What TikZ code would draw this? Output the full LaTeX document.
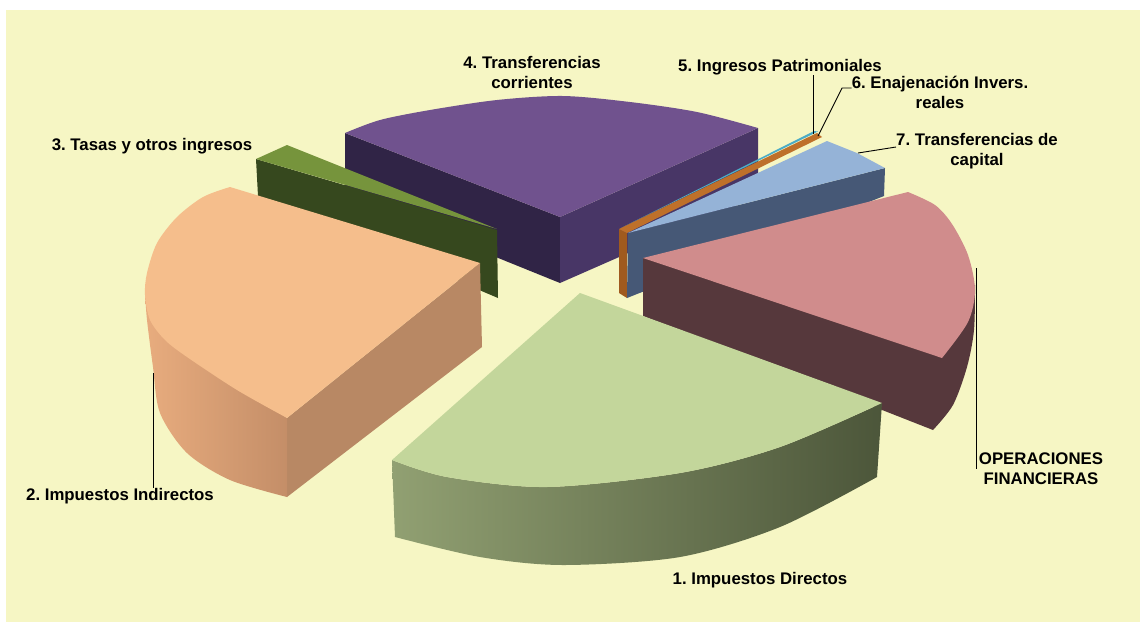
\documentclass[tikz,border=0pt]{standalone}
\usepackage{fontspec}
\setmainfont{Liberation Sans}
\frenchspacing
\begin{document}
\begin{tikzpicture}[x=1pt,y=-1pt,
  lbl/.style={font=\fontsize{16.8}{20}\selectfont\bfseries, inner sep=0pt, align=center, text=black},
  lead/.style={draw=black, line width=0.9pt}]
\definecolor{panel}{RGB}{246,246,196}
\definecolor{purTop}{RGB}{112,82,142}
\definecolor{purL}{RGB}{48,36,70}
\definecolor{purR}{RGB}{72,54,102}
\definecolor{gsTop}{RGB}{118,148,60}
\definecolor{gsSide}{RGB}{54,72,30}
\definecolor{teal5}{RGB}{75,172,198}
\definecolor{brTop}{RGB}{190,112,42}
\definecolor{brSide}{RGB}{160,90,30}
\definecolor{blTop}{RGB}{149,179,215}
\definecolor{blSide}{RGB}{70,88,118}
\definecolor{pkTop}{RGB}{208,140,140}
\definecolor{pkSide}{RGB}{86,56,60}
\definecolor{orTop}{RGB}{245,190,140}
\definecolor{orSideL}{RGB}{232,172,126}
\definecolor{orSideR}{RGB}{196,142,104}
\definecolor{orCut}{RGB}{184,136,100}
\definecolor{gbTop}{RGB}{195,214,155}
\definecolor{gbSideL}{RGB}{145,160,114}
\definecolor{gbSideR}{RGB}{76,86,58}

\useasboundingbox (0,0) rectangle (1146,625);
\fill[white] (0,0) rectangle (1146,625);
\fill[panel] (6,10) rectangle (1140,622);

% 4. Transferencias corrientes (purple)
\fill[purL] (345,133) -- (560,217) -- (560,283) -- (345,196) -- cycle;
\fill[purR] (560,217) -- (758,128) -- (758,196) -- (560,283) -- cycle;
\fill[purTop] (560,217) -- (345,133) -- plot[smooth] coordinates {(345,133) (380,120) (430,110) (497,100) (563,96) (630,102) (697,112) (758,128)} -- cycle;

% 3. Tasas (small green)
\fill[gsSide] (256,159) -- (497,230) -- (498,298) -- (258,196) -- cycle;
\fill[gsTop] (256,159) -- (287,145) -- (497,229) -- cycle;

% 5. Ingresos Patrimoniales (teal)
\fill[teal5] (814,131) -- (818,131.5) -- (621,228) -- cycle;

% 6. Enajenacion (brown)
\fill[brSide] (619,229) -- (627,233) -- (627,298) -- (619,293) -- cycle;
\fill[brTop] (817,133) -- (822,137) -- (627,233) -- (619,229) -- cycle;

% 7. Transferencias de capital (blue)
\fill[blSide] (628,233) -- (885,168) -- (884,196) -- (627,298) -- cycle;
\fill[blTop] (628,233) -- (827,141) -- (857,153) -- (885,168) -- cycle;

% Operaciones financieras (pink)
\fill[pkSide] (643,258) -- (975,285) -- plot[smooth] coordinates {(975,285) (974,330) (967,367) (953,405) (933,430)} -- (643,316) -- cycle;
\fill[pkTop] (643,258) -- (908,192) -- plot[smooth] coordinates {(908,192) (935,205) (952,224) (968,255) (975,290) (968,322) (942,358)} -- cycle;

% 2. Impuestos Indirectos (orange)
\fill[orCut] (287,418) -- (480,263) -- (482,347) -- (287,497) -- cycle;
\shade[left color=orSideL, right color=orSideR] (145,292) -- plot[smooth] coordinates {(145,292) (147,320) (153,367) (160,413) (187,453) (230,480) (287,497)} -- (287,418) -- cycle;
\fill[orTop] (480,263) -- (230,187) -- plot[smooth] coordinates {(230,187) (203,197) (177,217) (157,243) (147,273) (145,295) (150,320) (165,340) (187,357) (237,390) (287,418)} -- cycle;

% 1. Impuestos Directos (big green)
\shade[left color=gbSideL, right color=gbSideR] (392,460) -- plot[smooth] coordinates {(392,460) (447,477) (547,487) (680,473) (780,447) (882,403)} -- (877,477) -- plot[smooth] coordinates {(877,477) (780,527) (680,557) (563,565) (480,557) (395,537)} -- cycle;
\fill[gbTop] (580,293) -- (392,460) -- plot[smooth] coordinates {(392,460) (447,477) (547,487) (680,473) (780,447) (882,403)} -- cycle;

% Labels
\node[lbl] (t4) at (532,72) {4. Transferencias\\corrientes};
\node[lbl] (t5) at (780,67) {5. Ingresos Patrimoniales};
\node[lbl] (t6) at (940,92) {6. Enajenación Invers.\\reales};
\node[lbl] (t7) at (977,151) {7. Transferencias de\\capital};
\node[lbl] (tOP) at (1041,469) {OPERACIONES\\FINANCIERAS};
\node[lbl] (t3) at (152,146) {3. Tasas y otros ingresos};
\node[lbl] (t2) at (120,496) {2. Impuestos Indirectos};
\node[lbl] (t1) at (760,580) {1. Impuestos Directos};

% Leader lines
\coordinate (p5) at (813,134);
\coordinate (p6) at (818,136);
\coordinate (k6) at (842,88);
\coordinate (p7) at (858,153);
\coordinate (k7) at (890,147);
\coordinate (pOP) at (976,268);
\coordinate (p2) at (153,373);
\draw[lead] (p5) -- (p5 |- t5.south);
\draw[lead] (p6) -- (k6) -- (t6.west |- k6);
\draw[lead] (p7) -- (t7.west |- k7);
\draw[lead] (pOP) -- (pOP |- tOP.west);
\draw[lead] (p2) -- (p2 |- t2.north);
\end{tikzpicture}
\end{document}
